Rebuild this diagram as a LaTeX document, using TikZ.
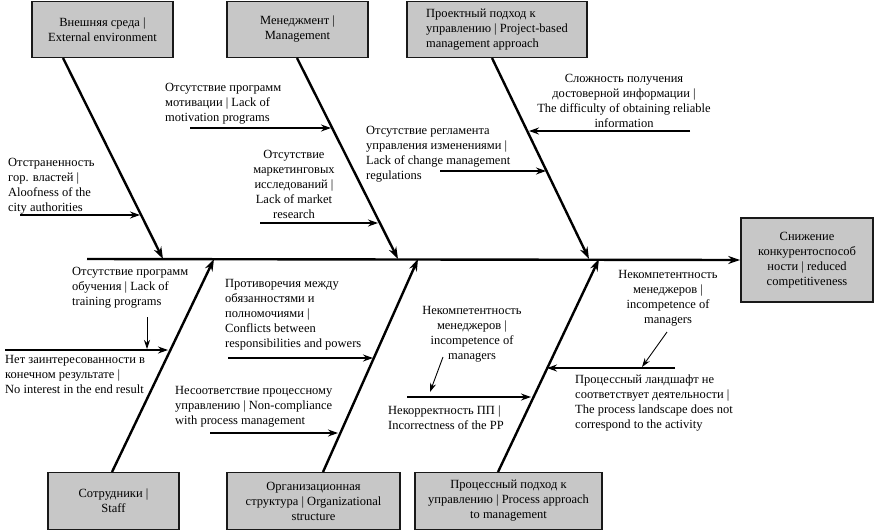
\documentclass[tikz,border=0pt]{standalone}
\usepackage{fontspec}
\setmainfont{Liberation Serif}
\usetikzlibrary{arrows.meta}
\begin{document}
\begin{tikzpicture}[x=1pt,y=-1pt,
  txt/.style={inner sep=0pt, font=\fontsize{12.5}{15}\selectfont, text=black},
  catbox/.style={txt, draw=black!90, line width=1.7pt, fill=black!22, align=center},
  lbl/.style={txt, align=left, anchor=north west},
  clbl/.style={txt, align=center, anchor=north},
  bone/.style={line width=2.4pt, -{Stealth[length=12pt,width=8pt]}},
  cause/.style={line width=1.4pt, -{Stealth[length=10pt,width=7pt]}},
  thincause/.style={line width=0.9pt, -{Stealth[length=9pt,width=6pt]}}]
\useasboundingbox (0,0) rectangle (877,531);

% category boxes
\node[catbox, minimum width=141pt, minimum height=56pt] (ext) at (102.5,29.5) {Внешняя среда |\\External environment};
\node[catbox, minimum width=141pt, minimum height=56pt] (mgt) at (297.5,29.5) {Менеджмент |\\Management};
\node[catbox, minimum width=180pt, minimum height=56pt, align=left] (prj) at (497,29.5) {Проектный подход к\\управлению | Project-based\\management approach};
\node[catbox, minimum width=132pt, minimum height=84pt] (res) at (807,260) {Снижение\\конкурентоспособ\\ности | reduced\\competitiveness};
\node[catbox, minimum width=131pt, minimum height=57pt] (stf) at (113.5,501) {Сотрудники |\\Staff};
\node[catbox, minimum width=173pt, minimum height=57pt] (org) at (313.5,501) {Организационная\\структура | Organizational\\structure};
\node[catbox, minimum width=187pt, minimum height=57pt] (prc) at (508.5,501) {Процессный подход к\\управлению | Process approach\\to management};

% spine
\coordinate (sp0) at (87,259);
\draw[bone] (sp0) -- (res.west);

% bone end points
\coordinate (extB) at (63,58);   \coordinate (extS) at (163,259);
\coordinate (mgtB) at (297,58);  \coordinate (mgtS) at (398,259);
\coordinate (prjB) at (492,58);  \coordinate (prjS) at (589,259);
\coordinate (stfB) at (112,472); \coordinate (stfS) at (214,259);
\coordinate (orgB) at (323,472); \coordinate (orgS) at (418,259);
\coordinate (prcB) at (498,472); \coordinate (prcS) at (599,259);
\draw[bone] (extB) -- (extS);
\draw[bone] (mgtB) -- (mgtS);
\draw[bone] (prjB) -- (prjS);
\draw[bone] (stfB) -- (stfS);
\draw[bone] (orgB) -- (orgS);
\draw[bone] (prcB) -- (prcS);

% cause arrows
\coordinate (motA) at (190,128); \coordinate (motB) at (331,128);
\coordinate (aloA) at (20,215);  \coordinate (aloB) at (140,215);
\coordinate (mktA) at (260,223); \coordinate (mktB) at (378,223);
\coordinate (regA) at (440,171); \coordinate (regB) at (546,171);
\coordinate (difA) at (690,131); \coordinate (difB) at (529,131);
\coordinate (trnA) at (147,317); \coordinate (trnB) at (147,349);
\coordinate (noiA) at (5,350);   \coordinate (noiB) at (168,350);
\coordinate (cnfA) at (228,358); \coordinate (cnfB) at (373,358);
\coordinate (ncoA) at (210,433); \coordinate (ncoB) at (338,433);
\coordinate (in1A) at (443,357); \coordinate (in1B) at (430,392);
\coordinate (ippA) at (407,397); \coordinate (ippB) at (531,397);
\coordinate (in2A) at (667,332); \coordinate (in2B) at (642,367);
\coordinate (lscA) at (675,368); \coordinate (lscB) at (547,368);
\draw[cause] (motA) -- (motB);
\draw[cause] (aloA) -- (aloB);
\draw[cause] (mktA) -- (mktB);
\draw[cause] (regA) -- (regB);
\draw[cause] (difA) -- (difB);
\draw[thincause] (trnA) -- (trnB);
\draw[cause] (noiA) -- (noiB);
\draw[cause] (cnfA) -- (cnfB);
\draw[cause] (ncoA) -- (ncoB);
\draw[thincause] (in1A) -- (in1B);
\draw[cause] (ippA) -- (ippB);
\draw[thincause] (in2A) -- (in2B);
\draw[cause] (lscA) -- (lscB);

% labels
\node[lbl] (tmot) at (165,83) {Отсутствие программ\\мотивации | Lack of\\motivation programs};
\node[lbl] (talo) at (8,158) {Отстраненность\\гор. властей |\\Aloofness of the\\city authorities};
\node[clbl] (tmkt) at (294,150) {Отсутствие\\маркетинговых\\исследований |\\Lack of market\\research};
\node[lbl] (treg) at (366,126) {Отсутствие регламента\\управления изменениями |\\Lack of change management\\regulations};
\node[clbl] (tdif) at (624,74) {Сложность получения\\достоверной информации |\\The difficulty of obtaining reliable\\information};
\node[lbl] (ttrn) at (72,267) {Отсутствие программ\\обучения | Lack of\\training programs};
\node[lbl] (tnoi) at (5,355) {Нет заинтересованности в\\конечном результате |\\No interest in the end result};
\node[lbl] (tcnf) at (225,279) {Противоречия между\\обязанностями и\\полномочиями |\\Conflicts between\\responsibilities and powers};
\node[lbl] (tnco) at (175,386) {Несоответствие процессному\\управлению | Non-compliance\\with process management};
\node[clbl] (tin1) at (472,306) {Некомпетентность\\менеджеров |\\incompetence of\\managers};
\node[lbl] (tipp) at (388,406) {Некорректность ПП |\\Incorrectness of the PP};
\node[clbl] (tin2) at (668,270) {Некомпетентность\\менеджеров |\\incompetence of\\managers};
\node[lbl] (tlsc) at (575,375) {Процессный ландшафт не\\соответствует деятельности |\\The process landscape does not\\correspond to the activity};
\end{tikzpicture}
\end{document}
